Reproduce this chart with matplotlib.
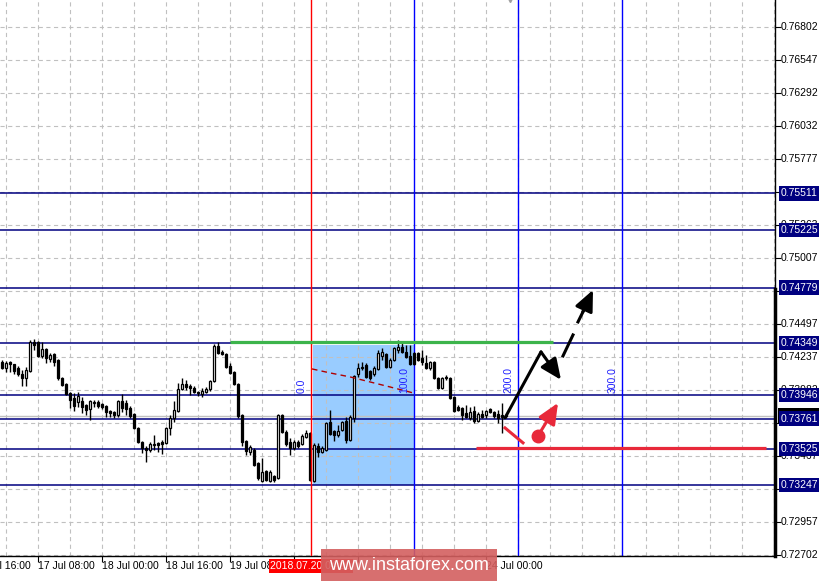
import numpy as np
import matplotlib
matplotlib.use('Agg')
import matplotlib.pyplot as plt
from matplotlib.patches import Rectangle
from matplotlib.transforms import blended_transform_factory as btf

plt.rcParams['lines.scale_dashes'] = False
plt.rcParams['font.family'] = ['Liberation Sans', 'DejaVu Sans']

# ---- H1 candles, prices in 1e-5 units (points) ----
open_pts = [74202,74155,74202,74186,74155,74108,74077,74132,74357,74357,
            74248,74302,74225,74264,74217,74077,74031,73961,73922,73891,
            73899,73868,73837,73883,73891,73875,73860,73821,73813,73790,
            73899,73883,73844,73798,73689,73580,73534,73518,73557,73573,
            73580,73573,73689,73767,73821,73992,74031,74015,73999,73969,
            73953,73969,73992,74054,74326,74279,74264,74170,74124,74031,
            73790,73588,73503,73518,73418,73278,73356,73278,73317,73301,
            73790,73658,73580,73534,73580,73565,73619,73650,73278,73549,
            73503,73518,73736,73666,73635,73674,73744,73596,73767,74108,
            74155,74178,74132,74108,74147,74248,74264,74163,74217,74295,
            74318,74279,74248,74271,74271,74233,74194,74155,74202,74077,
            73999,74085,74077,73930,73852,73844,73806,73767,73821,73744,
            73798,73790,73837,73813,73798,73790,73790]
high_pts = [74217,74209,74209,74186,74170,74139,74163,74372,74380,74365,
            74357,74310,74271,74271,74225,74085,74039,73969,73961,73969,
            73930,73875,73906,73906,73906,73883,73868,73829,73821,73906,
            73953,73906,73860,73806,73697,73588,73549,73580,73635,73580,
            73596,73697,73790,73899,74039,74077,74062,74031,74015,73976,
            73999,74007,74062,74341,74357,74295,74271,74194,74132,74039,
            73798,73596,73557,73534,73425,73456,73363,73363,73325,73798,
            73798,73674,73612,73596,73596,73643,73674,73658,73573,73573,
            73549,73736,73829,73674,73712,73744,73775,73790,74101,74194,
            74202,74194,74139,74170,74295,74310,74271,74233,74318,74372,
            74349,74333,74333,74279,74279,74295,74256,74209,74209,74085,
            74085,74101,74085,73938,73868,73852,73868,73852,73860,73813,
            73829,73829,73844,73821,73829,73883,73798]
low_pts = [74147,74124,74124,74108,74093,74015,74015,74124,74295,74240,
           74233,74194,74202,74170,74062,74015,73945,73844,73821,73852,
           73806,73790,73751,73852,73844,73837,73775,73775,73767,73775,
           73813,73790,73767,73681,73573,73495,73425,73503,73518,73503,
           73487,73565,73635,73736,73813,73984,73984,73945,73961,73938,
           73930,73961,73976,74046,74264,74256,74155,74108,74023,73767,
           73549,73480,73480,73394,73286,73270,73278,73270,73270,73294,
           73650,73549,73480,73518,73534,73557,73612,73278,73270,73464,
           73495,73511,73635,73588,73619,73666,73573,73588,73736,74085,
           74139,74077,74062,74093,74139,74217,74155,74155,74209,74271,
           74271,74233,74178,74178,74209,74178,74147,74139,74070,73992,
           73992,74062,73914,73813,73821,73751,73767,73751,73728,73736,
           73767,73767,73806,73767,73728,73650,73767]
close_pts = [74155,74194,74186,74132,74108,74077,74139,74357,74333,74248,
             74302,74233,74256,74202,74077,74023,73953,73906,73860,73938,
             73852,73829,73899,73891,73860,73852,73813,73806,73790,73899,
             73844,73837,73782,73689,73580,73534,73518,73565,73565,73557,
             73565,73689,73767,73829,73992,74031,74007,73999,73969,73961,
             73976,73992,74054,74326,74271,74264,74163,74116,74031,73782,
             73580,73511,73542,73402,73301,73348,73286,73348,73286,73790,
             73658,73565,73534,73580,73549,73627,73650,73286,73557,73503,
             73534,73728,73643,73635,73666,73736,73596,73775,74093,74155,
             74163,74085,74077,74155,74271,74279,74163,74217,74310,74318,
             74279,74240,74186,74186,74217,74202,74155,74202,74077,73999,
             74077,74077,73922,73821,73829,73790,73775,73813,73744,73798,
             73775,73821,73813,73782,73767,73775,73782]

price_ticks = [0.76802, 0.76547, 0.76292, 0.76032, 0.75777, 0.75522, 0.75263,
               0.75007, 0.74752, 0.74497, 0.74237, 0.73982, 0.73727, 0.73467,
               0.73212, 0.72957, 0.72702]
level_prices = [0.75511, 0.75225, 0.74779, 0.74349, 0.73946, 0.73761, 0.73525, 0.73247]
bid_price = 0.73782
time_tick_bars = [-7, 9, 25, 41, 57, 73, 89, 105, 121]
# labels at 73, 89, 105 are hidden under the time marker and the watermark
time_tick_labels = ['16 Jul 16:00', '17 Jul 08:00', '18 Jul 00:00', '18 Jul 16:00',
                    '19 Jul 08:00', '', '', '', '24 Jul 00:00']
red_line_bar = 77.25
red_line_label = '2018.07.20 04:00'
fib_zone_bars = [77.25, 103, 129, 155]
fib_zone_labels = ['0.0', '100.0', '200.0', '300.0']
fib_label_price = 0.73961
box_bars = (77.75, 103)
box_prices = (0.73247, 0.74333)
arc_bars = [77.5, 82, 87, 92, 97, 102.75]
arc_prices = [0.74147, 0.74116, 0.74085, 0.74046, 0.74007, 0.73961]
green_bars, green_price = (57, 137.75), 0.74357
redh_bars, redh_price = (118.5, 191), 0.73534

opens = np.array(open_pts) / 1e5
highs = np.array(high_pts) / 1e5
lows = np.array(low_pts) / 1e5
closes = np.array(close_pts) / 1e5
bars = np.arange(len(opens))

NAVY = '#000080'
XLIM = (-0.5, 193.25)
YLIM = (0.726943, 0.770117)
fig = plt.figure(figsize=(8.19, 5.81), dpi=100)
ax = fig.add_axes([0, 25 / 581, 775 / 819, 556 / 581])
for s in ['left', 'top']:
    ax.spines[s].set_visible(False)
ax.spines['right'].set_linewidth(1.0)
ax.spines['bottom'].set_linewidth(1.0)
ax.set_xticks(time_tick_bars)
ax.set_xticklabels([])
ax.tick_params(axis='x', length=4, width=0.8, direction='out')
ax.yaxis.tick_right()
ax.set_yticks(price_ticks)
ax.set_yticklabels([])
ax.tick_params(axis='y', length=4, width=0.8, direction='out')

# grid
for b in range(1, 194, 8):
    ax.axvline(b, color='#c0c0c0', lw=0.8, dashes=(3, 2.5), zorder=1)
for p in price_ticks:
    ax.axhline(p, color='#c0c0c0', lw=0.8, dashes=(3, 2.5), zorder=1)

# box
ax.add_patch(Rectangle((box_bars[0], box_prices[0]), box_bars[1] - box_bars[0],
                       box_prices[1] - box_prices[0], fc='#99ccff', ec='none', zorder=0.5))

# level lines
ax.axhline(bid_price, color='#c0c0c0', lw=1.0, zorder=1.5)
for p in level_prices:
    ax.axhline(p, color=NAVY, lw=1.1, zorder=2)
for b in fib_zone_bars[1:]:
    ax.axvline(b, color='#0000ff', lw=1.0, zorder=2)
ax.axvline(red_line_bar, color='#ff0000', lw=1.0, zorder=4)

# candles
ax.vlines(bars, lows, highs, color='black', lw=1.0, zorder=3)
up = closes >= opens
ax.bar(bars, np.abs(closes - opens), bottom=np.minimum(opens, closes), width=0.72,
       color=np.where(up, 'white', 'black'), edgecolor='black', linewidth=0.9, zorder=3.5)

# fib arc
ax.plot(arc_bars, arc_prices, color='#b00000', lw=1.0, dashes=(4, 3), zorder=4)

# green & red horizontals
ax.plot(green_bars, [green_price] * 2, color='#3cb44b', lw=2.3, zorder=4, solid_capstyle='butt')
ax.plot(redh_bars, [redh_price] * 2, color='#e8293a', lw=2.3, zorder=4, solid_capstyle='butt')

# fib labels
for b, lab in zip(fib_zone_bars, fib_zone_labels):
    ax.text(b - 1.2, fib_label_price, lab, rotation=90, ha='right', va='bottom',
            color='#2020ff', fontsize=7.5, zorder=5)

# black arrows
ax.plot([125.75, 134.75], [0.73767, 0.74279], color='black', lw=2.2, zorder=6,
        solid_capstyle='round')
head = '-|>,head_length=0.9,head_width=0.4'
ax.annotate('', xy=(139.75, 0.74062), xytext=(134.75, 0.74279),
            arrowprops=dict(arrowstyle=head, color='black', lw=2.2, mutation_scale=14,
                            shrinkA=0, shrinkB=0), zorder=6)
ax.plot([140.25, 142.75], [0.74248, 0.74411], color='black', lw=2.2, zorder=6)
ax.plot([144.0, 145.4], [0.74512, 0.74600], color='black', lw=2.2, zorder=6)
ax.annotate('', xy=(147.75, 0.74760), xytext=(145.2, 0.74590),
            arrowprops=dict(arrowstyle=head, color='black', lw=2.2, mutation_scale=14,
                            shrinkA=0, shrinkB=0), zorder=6)
# red arrows
RED = '#e8293a'
ax.plot([125.75, 130.25], [0.73689, 0.73573], color=RED, lw=2.2, zorder=6)
ax.plot([134], [0.73627], 'o', color=RED, markersize=9, zorder=6)
ax.annotate('', xy=(139, 0.73883), xytext=(134, 0.73627),
            arrowprops=dict(arrowstyle=head, color=RED, lw=2.2, mutation_scale=14,
                            shrinkA=0, shrinkB=0), zorder=6)

# right axis labels
tr = btf(ax.transAxes, ax.transData)
for p in price_ticks:
    ax.text(1 + 6 / 775, p, f'{p:.5f}', transform=tr, ha='left', va='center',
            fontsize=7.5, color='black', clip_on=False, zorder=7)
ax.text(1 + 6 / 775, bid_price, f'{bid_price:.5f}', transform=tr, ha='left', va='center',
        fontsize=7.5, color='white', clip_on=False, zorder=8,
        bbox=dict(boxstyle='square,pad=0.3', fc='black', ec='none'))
for p in level_prices:
    ax.text(1 + 6 / 775, p, f'{p:.5f}', transform=tr, ha='left', va='center',
            fontsize=7.5, color='white', clip_on=False, zorder=9,
            bbox=dict(boxstyle='square,pad=0.22', fc=NAVY, ec='none'))
ax.plot([1, 1], [0, 0.48], transform=ax.transAxes, color='black', lw=2.5,
        clip_on=False, zorder=7)
ax.plot([127], [1.0], marker='v', color='#a0a0a0', markersize=3,
        transform=btf(ax.transData, ax.transAxes), clip_on=False, zorder=7)

# bottom labels
trx = btf(ax.transData, ax.transAxes)
for b, lab in zip(time_tick_bars, time_tick_labels):
    if lab:
        ax.text(b, -0.018, lab, transform=trx, ha='left', va='center', fontsize=7.5,
                color='black', clip_on=False, zorder=7)
ax.text(red_line_bar, -0.018, red_line_label, transform=trx, ha='center', va='center',
        fontsize=7.5, color='white', clip_on=False, zorder=8,
        bbox=dict(boxstyle='square,pad=0.15', fc='#ff0000', ec='none'))

# watermark
fig.patches.append(Rectangle((321 / 819, 0), 176 / 819, 32 / 581, transform=fig.transFigure,
                             fc='#d35f5f', alpha=0.9, ec='none', zorder=10))
fig.text(409 / 819, 15 / 581, 'www.instaforex.com', ha='center', va='center',
         color='white', fontsize=13, family=['Liberation Sans'], zorder=11)

ax.set_xlim(*XLIM)
ax.set_ylim(*YLIM)
fig.savefig('out.png', dpi=100)
